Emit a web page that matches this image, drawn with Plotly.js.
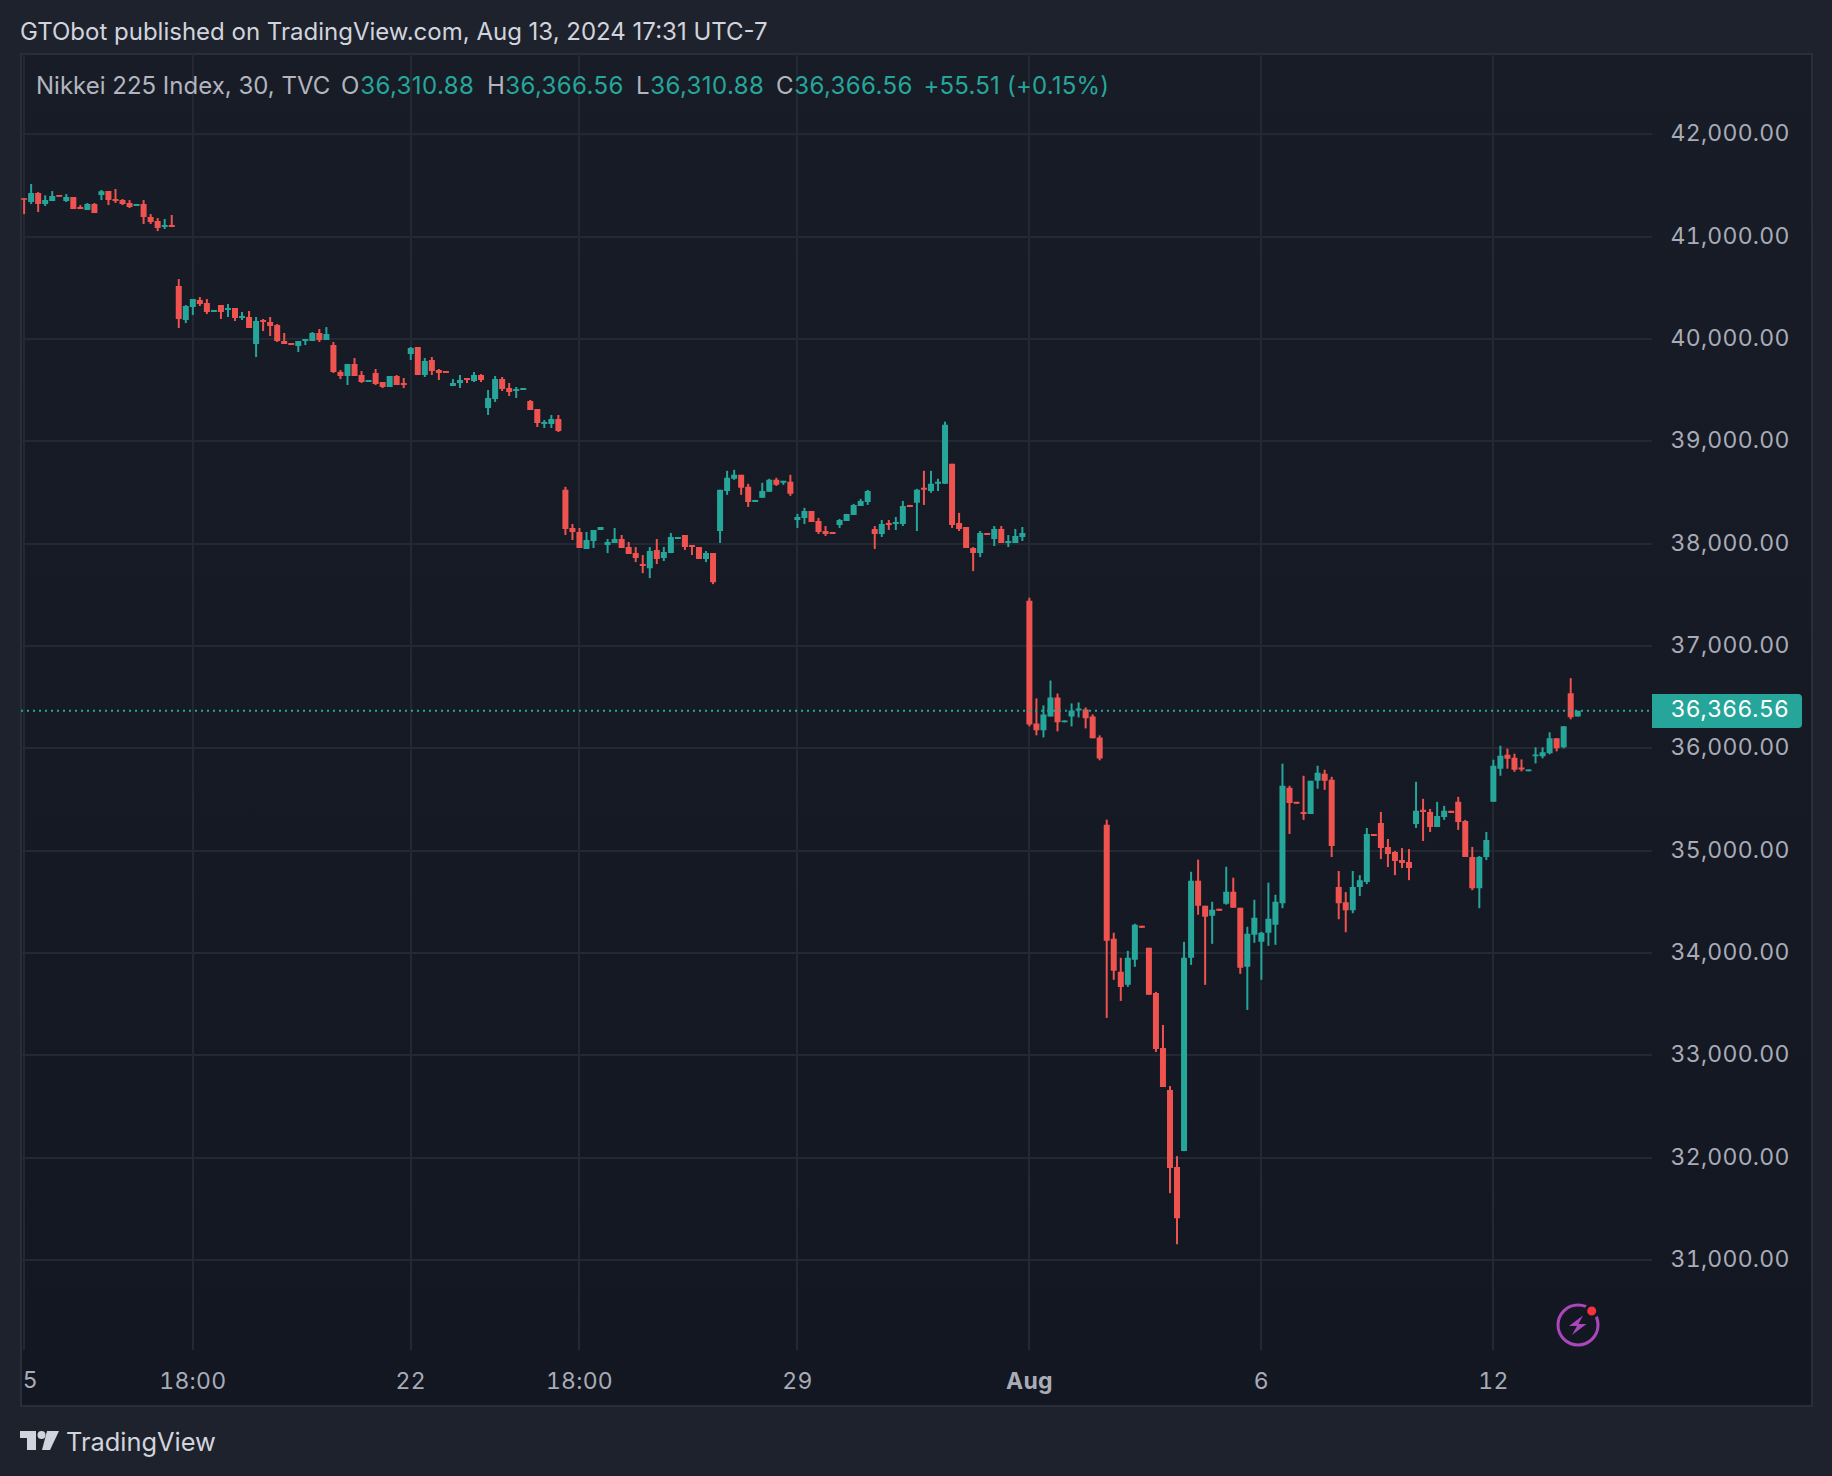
<!DOCTYPE html>
<html>
<head>
<meta charset="utf-8">
<script src="https://cdn.plot.ly/plotly-3.0.1.min.js"></script>
<style>
html,body{margin:0;padding:0;background:#1e222d;width:1832px;height:1476px;overflow:hidden}
#panel{position:absolute;left:20px;top:53px;width:1793px;height:1354px;box-sizing:border-box;border:2px solid #2a2e39;background:linear-gradient(#181c27,#131722)}
#chart{position:absolute;left:0;top:0;width:1832px;height:1476px}
.xtick text,.ytick text{letter-spacing:0.25px;font-feature-settings:"tnum" 1 !important;font-variant-numeric:tabular-nums !important}
</style>
</head>
<body>
<div id="panel"></div>
<div id="chart"></div>
<script>
const opens=[41375,41339,41427,41319,41348,41407,41348,41388,41290,41261,
41319,41407,41446,41368,41358,41329,41300,41319,41192,41153,
41094,41114,40518,40186,40313,40381,40352,40264,40332,40283,
40303,40205,40215,39951,40186,40166,40137,39981,39961,39932,
39981,39981,40059,39990,39941,39678,39639,39756,39648,39580,
39668,39580,39531,39639,39570,39854,39922,39648,39795,39697,
39687,39541,39570,39619,39590,39648,39326,39414,39609,39521,
39492,39502,39394,39316,39170,39170,39218,38526,38154,38114,
37948,38026,38134,37987,38007,38046,37967,37908,37801,37761,
37938,37859,37908,38046,38085,37987,37967,37850,37908,38124,
38516,38634,38673,38556,38408,38448,38507,38624,38595,38605,
38232,38252,38320,38222,38124,38114,38183,38222,38281,38369,
38408,38144,38095,38203,38193,38193,38379,38399,38546,38516,
38585,38585,38781,38203,38163,37958,37908,38105,38046,38144,
38007,38007,38065,37443,36244,36176,36312,36497,36254,36312,
36371,36380,36312,36107,35254,34139,33816,33689,33933,34266,
34051,33610,33072,32661,31908,32064,33953,34706,34462,34364,
34432,34481,34599,34442,33865,34178,34109,34198,34276,34487,
35614,35477,35379,35359,35683,35752,35693,34644,34497,34418,
34644,34693,35163,35271,35036,34987,34908,34889,35261,35399,
35379,35232,35330,35389,35477,35291,34938,34634,34938,35477,
35801,35938,35908,35814,35775,35922,35922,35951,36098,36010,
36539,36310.88];
const highs=[41375,41515,41436,41404,41446,41407,41417,41388,41309,41329,
41329,41456,41446,41466,41368,41358,41319,41358,41221,41182,
41173,41212,40586,40332,40391,40410,40391,40283,40332,40342,
40303,40264,40274,40215,40196,40215,40147,40059,39961,39981,
40000,40069,40098,40117,39971,39697,39756,39814,39687,39599,
39707,39580,39639,39648,39619,39922,39922,39814,39824,39707,
39687,39609,39648,39619,39678,39658,39502,39639,39629,39570,
39531,39521,39404,39316,39209,39258,39258,38556,38193,38154,
38114,38134,38163,38046,38154,38085,38016,37967,37889,37967,
38046,37967,38105,38065,38085,37987,37967,37928,37908,38526,
38712,38722,38673,38585,38428,38595,38634,38644,38614,38673,
38291,38350,38320,38252,38173,38114,38242,38291,38389,38438,
38526,38173,38232,38232,38261,38418,38379,38536,38712,38712,
38634,39193,38781,38301,38163,37967,38124,38105,38173,38173,
38085,38144,38163,37472,36488,36419,36663,36536,36273,36439,
36449,36400,36332,36127,35303,34198,33953,34021,34286,34266,
34051,33620,33297,32700,32015,34109,34794,34912,34462,34501,
34432,34843,34736,34442,34256,34520,34207,34687,34569,35850,
35634,35477,35732,35683,35830,35791,35722,34801,34595,34801,
34761,35222,35163,35379,35114,34997,35026,35016,35673,35507,
35408,35477,35438,35389,35526,35301,35036,34948,35183,35889,
36026,35997,35948,35892,35794,36010,36010,36157,36098,36216,
36686,36366.56];
const lows=[41221,41319,41241,41300,41348,41391,41339,41270,41270,41261,
41231,41358,41309,41329,41309,41280,41300,41124,41124,41055,
41075,41094,40108,40156,40235,40323,40244,40264,40196,40215,
40176,40186,40108,39824,40078,40029,39971,39951,39941,39873,
39941,39981,39971,39990,39668,39609,39551,39639,39570,39580,
39551,39521,39531,39551,39521,39795,39648,39629,39648,39599,
39668,39541,39521,39570,39580,39580,39258,39385,39492,39443,
39424,39502,39306,39140,39131,39131,39091,38085,38036,37958,
37948,37958,38134,37908,38007,37958,37899,37820,37712,37663,
37801,37830,37908,38046,37938,37889,37850,37820,37605,38007,
38477,38624,38477,38359,38408,38448,38507,38565,38575,38467,
38154,38193,38212,38095,38075,38095,38154,38222,38281,38369,
38379,37948,38065,38134,38134,38173,38359,38124,38379,38497,
38516,38585,38154,38124,37958,37732,37869,38085,37977,38007,
37967,38007,38026,36215,36127,36107,36312,36166,36254,36215,
36302,36195,36098,35883,33366,33738,33532,33669,33865,34246,
33591,33033,32690,31653,31154,32064,33884,34374,33689,34090,
34413,34472,34442,33796,33444,34100,33738,34070,34080,34438,
35163,35458,35301,35359,35605,35595,34938,34330,34203,34389,
34556,34673,35144,34918,34840,34761,34830,34712,35222,35095,
35183,35232,35301,35369,35203,34938,34614,34438,34908,35477,
35732,35801,35771,35775,35775,35853,35902,35941,35971,36000,
36284,36310.88];
const closes=[41362,41427,41319,41358,41397,41391,41388,41270,41270,41319,
41231,41443,41358,41348,41319,41290,41319,41192,41143,41085,
41114,41094,40196,40323,40391,40342,40264,40283,40264,40303,
40205,40225,40108,40176,40166,40127,39981,39951,39941,39981,
40000,40059,39990,40049,39678,39639,39756,39639,39580,39599,
39560,39531,39639,39551,39551,39912,39648,39785,39687,39668,
39668,39570,39599,39599,39648,39599,39424,39609,39512,39482,
39512,39521,39306,39179,39189,39218,39101,38144,38114,37958,
38036,38134,38163,38016,38046,37958,37899,37859,37781,37928,
37850,37918,38065,38065,37967,37967,37850,37908,37624,38526,
38644,38673,38546,38408,38428,38516,38624,38575,38614,38487,
38261,38320,38212,38114,38095,38095,38232,38291,38379,38418,
38516,38095,38193,38183,38212,38369,38359,38526,38526,38585,
38605,39163,38183,38144,37958,37908,38105,38085,38144,38007,
38026,38075,38105,36234,36176,36332,36497,36254,36273,36371,
36390,36293,36098,35902,34119,33826,33669,33953,34276,34246,
33591,33062,32690,31898,31409,33953,34706,34462,34354,34423,
34413,34599,34442,33855,34188,34344,34198,34335,34501,35634,
35467,35458,35359,35683,35761,35683,35046,34487,34418,34644,
34712,35163,35144,35026,34967,34899,34879,34830,35389,35379,
35232,35340,35389,35369,35281,34938,34634,34938,35105,35830,
35928,35899,35791,35794,35794,35941,35961,36098,36000,36216,
36304,36366.56];

const priceTicks=[31000,32000,33000,34000,35000,36000,37000,38000,39000,40000,41000,42000];
const priceLabels=["31,000.00","32,000.00","33,000.00","34,000.00","35,000.00","36,000.00","37,000.00","38,000.00","39,000.00","40,000.00","41,000.00","42,000.00"];
const timeTicks=[0,24,55,79,110,143,176,209];
const timeLabels=["","18:00","22","18:00","29","<b>Aug</b>","6","12"];
const firstLabel="5";
const lastPrice=36366.56;
const lastLabel="36,366.56";
const titleText="GTObot published on TradingView.com, Aug 13, 2024 17:31 UTC-7";
const symbolText="Nikkei 225 Index, 30, TVC";
const ohlcLetters=["O","H","L","C"];
const ohlcValues=["36,310.88","36,366.56","36,310.88","36,366.56"];
const changeText="+55.51 (+0.15%)";

const UP="#26a69a",DOWN="#ef5350",GRID="#242833",FONT="Inter, 'Liberation Sans', sans-serif";
const W=1832,H=1476,L=21,R=1652,T=54,B=1350;
const px=x=>(x-L)/(R-L), py=y=>(B-y)/(B-T);
const xs=opens.map((_,i)=>i);

function wickTrace(test,color){
  const wx=[],wy=[];
  xs.forEach(i=>{ if(test(i)){ wx.push(i,i,null); wy.push(lows[i],highs[i],null); } });
  return {type:"scatter",mode:"lines",x:wx,y:wy,line:{color:color,width:2},hoverinfo:"skip",showlegend:false};
}
const traces=[
  wickTrace(i=>closes[i]>=opens[i],UP),
  wickTrace(i=>closes[i]<opens[i],DOWN),
  {type:"candlestick",x:xs,open:opens,high:highs,low:lows,close:closes,
   increasing:{line:{color:UP,width:0},fillcolor:UP},
   decreasing:{line:{color:DOWN,width:0},fillcolor:DOWN},
   whiskerwidth:0,hoverinfo:"skip",showlegend:false}
];

function txt(text,x,y,size,color,extra){
  return Object.assign({text:text,xref:"paper",yref:"paper",x:px(x),y:py(y),xanchor:"left",yanchor:"middle",
    showarrow:false,font:{family:FONT,size:size,color:color},borderpad:0,borderwidth:0},extra||{});
}
const LEG="#b2b5be",SZ=24;
const annotations=[
  txt(titleText,20,31,SZ,"#d1d4dc"),
  txt(symbolText,36,85,SZ,LEG),
  txt(ohlcLetters[0],341,85,SZ,LEG), txt(ohlcValues[0],362,85,SZ,UP),
  txt(ohlcLetters[1],487,85,SZ,LEG), txt(ohlcValues[1],507,85,SZ,UP),
  txt(ohlcLetters[2],636,85,SZ,LEG), txt(ohlcValues[2],652,85,SZ,UP),
  txt(ohlcLetters[3],776,85,SZ,LEG), txt(ohlcValues[3],796,85,SZ,UP),
  txt(changeText,925,85,SZ,UP),
  txt(firstLabel,23,1380,23,"#a9acb6"),
  txt(lastLabel,1675,709,23,"#ffffff"),
  txt("TradingView",66,1441,25.4,"#d1d4dc")
];

function poly(points,color){
  const d=points.map((p,i)=>(i?"L":"M")+px(p[0])+","+py(p[1])).join(" ")+" Z";
  return {type:"path",path:d,xref:"paper",yref:"paper",fillcolor:color,line:{width:0},layer:"above"};
}
function circle(cx,cy,r,fill,stroke,w){
  return {type:"circle",xref:"paper",yref:"paper",x0:px(cx-r),x1:px(cx+r),y0:py(cy+r),y1:py(cy-r),
    fillcolor:fill,line:{color:stroke,width:w},layer:"above"};
}
const shapes=[
  {type:"line",xref:"paper",yref:"y",x0:0,x1:1,y0:lastPrice,y1:lastPrice,
   line:{color:UP,width:2,dash:"2px,4px"},layer:"above"},
  (function(){
    const x0=1652,x1=1802,y0=694,y1=728,r=4;
    const d="M"+px(x0)+","+py(y0)+" L"+px(x1-r)+","+py(y0)+" Q"+px(x1)+","+py(y0)+" "+px(x1)+","+py(y0+r)+
      " L"+px(x1)+","+py(y1-r)+" Q"+px(x1)+","+py(y1)+" "+px(x1-r)+","+py(y1)+" L"+px(x0)+","+py(y1)+" Z";
    return {type:"path",path:d,xref:"paper",yref:"paper",fillcolor:UP,line:{width:0},layer:"above"};
  })(),
  poly([[20,1431],[36,1431],[36,1450],[27,1450],[27,1438],[20,1438]],"#d1d4dc"),
  circle(41.5,1435,4,"#d1d4dc","#d1d4dc",0),
  poly([[47,1431],[59,1431],[50,1450],[42,1450]],"#d1d4dc"),
  circle(1578,1325,20,"rgba(0,0,0,0)","#ab47bc",3),
  circle(1591.7,1311,6,"#f7323f","#131722",3),
  poly([[1583,1315.5],[1569,1326],[1577,1326],[1572,1335],[1586.5,1324],[1578.5,1324]],"#ab47bc")
];

const layout={
  width:W,height:H,paper_bgcolor:"rgba(0,0,0,0)",plot_bgcolor:"rgba(0,0,0,0)",
  margin:{l:L,r:W-R,t:T,b:H-B,pad:0},showlegend:false,dragmode:false,hovermode:false,boxgap:0.147,boxgroupgap:0,
  font:{family:FONT,size:23,color:"#a9acb6"},
  xaxis:{type:"linear",range:[(L-24.1)/7.03,(R-24.1)/7.03],tickmode:"array",tickvals:timeTicks,ticktext:timeLabels,
    showgrid:true,gridcolor:GRID,gridwidth:2,zeroline:false,showline:false,ticks:"outside",ticklen:10,tickcolor:"rgba(0,0,0,0)",
    tickfont:{family:FONT,size:23,color:"#a9acb6"},rangeslider:{visible:false},fixedrange:true},
  yaxis:{type:"linear",side:"right",range:[31000-(B-1260)/0.10233,31000+(1260-T)/0.10233],tickmode:"array",tickvals:priceTicks,ticktext:priceLabels,
    showgrid:true,gridcolor:GRID,gridwidth:2,zeroline:false,showline:false,ticks:"outside",ticklen:13,tickcolor:"rgba(0,0,0,0)",ticklabelshift:-1,
    tickfont:{family:FONT,size:23,color:"#a9acb6"},fixedrange:true},
  annotations:annotations,shapes:shapes
};
Plotly.newPlot("chart",traces,layout,{displayModeBar:false,staticPlot:true}).then(()=>{
  document.querySelectorAll(".annotation-text").forEach(t=>{
    const s=t.textContent;
    if(s===lastLabel && t.style.fill.indexOf("255")>=0) t.style.letterSpacing="0.95px";
    else if(s===changeText) t.style.letterSpacing="0.2px";
    else if(/^\d{2},/.test(s)) t.style.letterSpacing="0.4px";
  });
});
</script>
</body>
</html>
